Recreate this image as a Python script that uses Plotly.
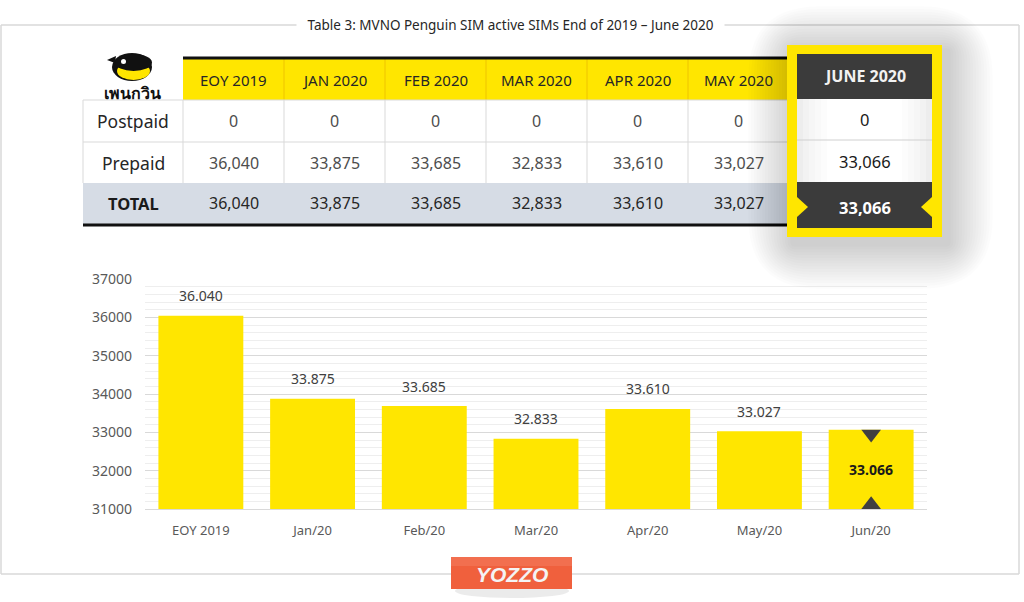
import plotly.graph_objects as go

# ---------------- data ----------------
table_columns = ["EOY 2019", "JAN 2020", "FEB 2020", "MAR 2020", "APR 2020", "MAY 2020"]
highlight_column = "JUNE 2020"
row_labels = ["Postpaid", "Prepaid", "TOTAL"]
postpaid = [0, 0, 0, 0, 0, 0, 0]
prepaid = [36040, 33875, 33685, 32833, 33610, 33027, 33066]
total = [36040, 33875, 33685, 32833, 33610, 33027, 33066]

bar_categories = ["EOY 2019", "Jan/20", "Feb/20", "Mar/20", "Apr/20", "May/20", "Jun/20"]
bar_values = [36040, 33875, 33685, 32833, 33610, 33027, 33066]

title_text = "Table 3: MVNO Penguin SIM active SIMs End of 2019 \u2013 June 2020"

# ---------------- geometry helpers ----------------
W, H = 1024, 602
FONT = "Noto Sans"


def X(px):
    return px / W


def Y(py):
    return 1 - py / H


shapes = []
annotations = []


def rect(x0, y0, x1, y1, fill, line_color=None, line_width=0, opacity=1.0):
    shapes.append(dict(type="rect", xref="paper", yref="paper",
                       x0=X(x0), x1=X(x1), y0=Y(y1), y1=Y(y0),
                       fillcolor=fill, opacity=opacity,
                       line=dict(color=line_color or fill, width=line_width)))


def line(x0, y0, x1, y1, color, width=1):
    shapes.append(dict(type="line", xref="paper", yref="paper",
                       x0=X(x0), x1=X(x1), y0=Y(y0), y1=Y(y1),
                       line=dict(color=color, width=width)))


def ellipse(x0, y0, x1, y1, fill, opacity=1.0):
    shapes.append(dict(type="circle", xref="paper", yref="paper",
                       x0=X(x0), x1=X(x1), y0=Y(y1), y1=Y(y0),
                       fillcolor=fill, opacity=opacity, line=dict(width=0)))


def poly(points, fill):
    p = "M " + " L ".join(f"{X(a)},{Y(b)}" for a, b in points) + " Z"
    shapes.append(dict(type="path", xref="paper", yref="paper", path=p,
                       fillcolor=fill, line=dict(width=0)))


def rounded(x0, y0, x1, y1, r, fill, opacity):
    p = (f"M {X(x0 + r)},{Y(y0)} L {X(x1 - r)},{Y(y0)} Q {X(x1)},{Y(y0)} {X(x1)},{Y(y0 + r)} "
         f"L {X(x1)},{Y(y1 - r)} Q {X(x1)},{Y(y1)} {X(x1 - r)},{Y(y1)} "
         f"L {X(x0 + r)},{Y(y1)} Q {X(x0)},{Y(y1)} {X(x0)},{Y(y1 - r)} "
         f"L {X(x0)},{Y(y0 + r)} Q {X(x0)},{Y(y0)} {X(x0 + r)},{Y(y0)} Z")
    shapes.append(dict(type="path", xref="paper", yref="paper", path=p,
                       fillcolor=fill, opacity=opacity, line=dict(width=0)))


def text(x, y, s, size, color="#262626", bold=False, bg=None, family=FONT, xanchor="center"):
    annotations.append(dict(xref="paper", yref="paper", x=X(x), y=Y(y),
                            text=f"<b>{s}</b>" if bold else s, showarrow=False,
                            xanchor=xanchor, yanchor="middle",
                            font=dict(size=size, color=color, family=family),
                            bgcolor=bg, borderpad=0))


# ---------------- frame & title ----------------
GRAY = "#d9d9d9"
line(1, 25, 1019, 25, GRAY, 1.5)
line(1, 25, 1, 574, GRAY, 1.5)
line(1019, 25, 1019, 574, GRAY, 1.5)
line(1, 574, 1019, 574, GRAY, 1.5)
text(510, 25, "&nbsp;&nbsp;&nbsp;" + title_text + "&nbsp;&nbsp;&nbsp;", 13.5, "#262626", bg="white")

# ---------------- table ----------------
LABEL_X0, COL0 = 83, 183
COLW = 101
TOP, HDR_B = 58, 100
ROW_B = [142, 183, 224]
right = COL0 + COLW * len(table_columns)

rect(COL0, TOP, right, HDR_B, "#FFE600")
for i in range(1, len(table_columns)):
    line(COL0 + i * COLW, TOP, COL0 + i * COLW, HDR_B, "#eec400", 1)
rect(LABEL_X0, HDR_B, right, ROW_B[1], "white")
rect(LABEL_X0, ROW_B[1], right, ROW_B[2], "#d6dce5")
line(LABEL_X0, HDR_B, right, HDR_B, GRAY, 1)
line(LABEL_X0, ROW_B[0], right, ROW_B[0], GRAY, 1)
line(LABEL_X0, HDR_B, LABEL_X0, ROW_B[1], GRAY, 1)
for i in range(len(table_columns)):
    line(COL0 + i * COLW, HDR_B, COL0 + i * COLW, ROW_B[1], GRAY, 1)
line(COL0, TOP, right, TOP, "#111111", 3)
line(LABEL_X0, 225, right, 225, "#111111", 3)

rows_values = [postpaid, prepaid, total]
row_tops = [HDR_B, ROW_B[0], ROW_B[1]]
for r, lab in enumerate(row_labels):
    cy = (row_tops[r] + ROW_B[r]) / 2
    if lab == "TOTAL":
        text((LABEL_X0 + COL0) / 2, cy, lab, 16.5, "#1a1a1a", bold=True)
    else:
        text((LABEL_X0 + COL0) / 2, cy, lab, 17.5, "#262626")
for c, name in enumerate(table_columns):
    cx = COL0 + COLW * c + COLW / 2
    text(cx, (TOP + HDR_B) / 2 + 1, name, 15, "#262626")
    for r in range(3):
        cy = (row_tops[r] + ROW_B[r]) / 2
        col = "#262626" if r == 2 else "#4d4d4d"
        text(cx, cy, f"{rows_values[r][c]:,}", 16, col)

# penguin logo
ellipse(112, 53, 152, 81, "#111111")
ellipse(117, 62, 150, 80, "#FFE600")
ellipse(115, 54, 152, 71, "#111111")
ellipse(121, 59, 126, 64, "white")
poly([(116, 56), (107, 60), (115, 63)], "#111111")
text(132, 93, "เพนกวิน", 16, "#111111", bold=True)

# ---------------- June highlight box ----------------
BX0, BY0, BX1, BY1 = 787, 45, 942, 237
for k in range(16, 0, -1):
    e = 2.8 * k
    rounded(BX0 - e + 6, BY0 - e + 6, BX1 + e + 6, BY1 + e + 7, 1.6 * e, "#000000", 0.013)
rect(BX0, BY0, BX1, BY1, "#FFE600")
IX0, IX1 = 797, 932
rect(IX0, 54, IX1, 99, "#3b3b3b")
grad = ["#ededed", "#f2f2f2", "#f6f6f6", "#f9f9f9", "#fcfcfc", "#ffffff"]
for g, gc in enumerate(grad):
    rect(IX0 + 6 * g, 99, IX1 - 6 * g, 182, gc)
line(IX0, 140, IX1, 140, "#d0d0d0", 1)
rect(IX0, 182, IX1, 228, "#3b3b3b")
poly([(IX0, 197), (IX0 + 11, 207), (IX0, 217)], "#FFE600")
poly([(IX1, 197), (IX1 - 11, 207), (IX1, 217)], "#FFE600")
bcx = (IX0 + IX1) / 2
text(bcx, 76, highlight_column, 16, "#f2f2f2", bold=True)
text(bcx, 120, f"{postpaid[-1]:,}", 16.5, "#1a1a1a")
text(bcx, 161, f"{prepaid[-1]:,}", 16.5, "#1a1a1a")
text(bcx, 207, f"{total[-1]:,}", 16.5, "#ffffff", bold=True)

# ---------------- YOZZO logo ----------------
ellipse(455, 584, 569, 598, "#000000", opacity=0.08)
rect(451, 557, 572, 589, "#F0603D")
rect(451, 557, 572, 566, "#F47A5C", opacity=0.6)
text(512, 574, "<i>YOZZO</i>", 21, "#f4f4f4", bold=True, family="Liberation Sans")

# ---------------- bar chart ----------------
YMIN, YMAX = 31000, 37000
PX0, PX1, PY_TOP, PY_BOT = 145, 927, 279, 509
per_px = (YMAX - YMIN) / (PY_BOT - PY_TOP)

fig = go.Figure()
fig.add_trace(go.Bar(x=bar_categories, y=bar_values, marker=dict(color="#FFE600", line=dict(width=0)),
                     hoverinfo="skip"))

for cat, v in zip(bar_categories[:-1], bar_values[:-1]):
    annotations.append(dict(xref="x", yref="y", x=cat, y=v, yshift=20, showarrow=False,
                            text=f"{v:,}".replace(",", "."), yanchor="middle",
                            font=dict(size=14, color="#404040", family=FONT)))
last_cat, last_v = bar_categories[-1], bar_values[-1]
annotations.append(dict(xref="x", yref="y", x=last_cat, y=(YMIN + last_v) / 2, showarrow=False,
                        text="<b>" + f"{last_v:,}".replace(",", ".") + "</b>", yanchor="middle",
                        font=dict(size=14, color="#1a1a1a", family=FONT)))
fig.add_trace(go.Scatter(x=[last_cat, last_cat],
                         y=[last_v - 4.3 * per_px, YMIN + 4.3 * per_px],
                         mode="markers", cliponaxis=False, hoverinfo="skip",
                         marker=dict(symbol=["triangle-down", "triangle-up"], size=17,
                                     color="#404040", line=dict(width=0))))

fig.update_layout(
    width=W, height=H, autosize=False,
    margin=dict(l=0, r=0, t=0, b=0, pad=0, autoexpand=False),
    paper_bgcolor="white", plot_bgcolor="white", showlegend=False,
    bargap=0.24,
    font=dict(family=FONT),
    xaxis=dict(domain=[X(PX0), X(PX1)], showgrid=False, showline=True, linecolor="#d9d9d9",
               linewidth=1, ticks="", tickfont=dict(size=13, color="#595959"),
               ticklabelstandoff=9, fixedrange=True, automargin=False),
    yaxis=dict(domain=[Y(PY_BOT), Y(PY_TOP)], range=[YMIN, YMAX], tick0=YMIN, dtick=1000,
               tickformat="d", showgrid=True, gridcolor="#d9d9d9", gridwidth=1,
               minor=dict(tick0=YMIN, dtick=200, showgrid=True, gridcolor="#eeeeee", gridwidth=1),
               zeroline=False, showline=False, ticks="", automargin=False,
               tickfont=dict(size=14, color="#595959"), ticklabelstandoff=12, fixedrange=True),
    shapes=shapes, annotations=annotations,
)

fig.write_html("out.html")
